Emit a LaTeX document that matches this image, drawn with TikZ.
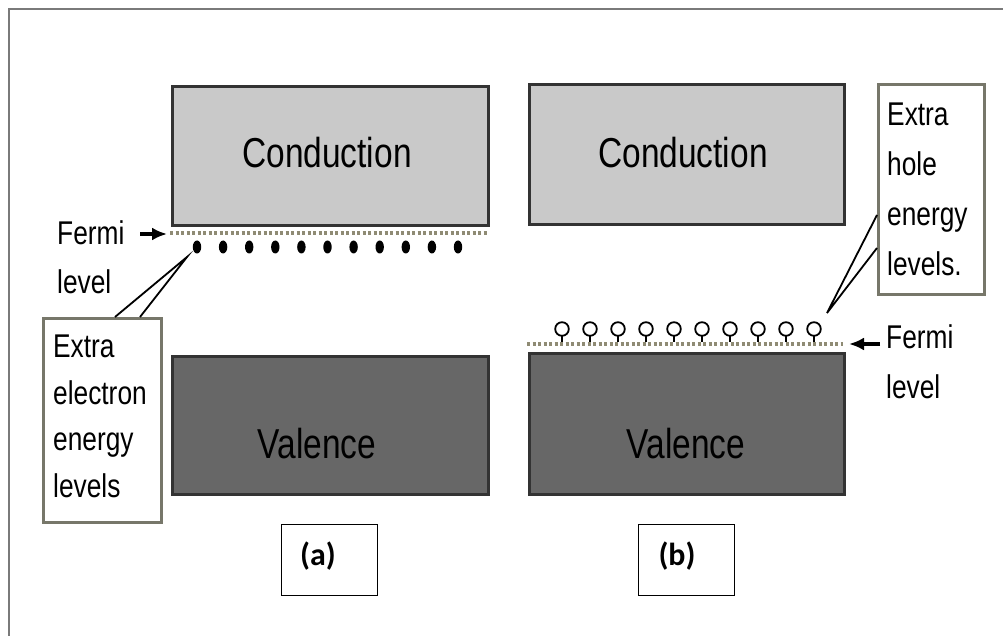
\documentclass[tikz,border=0pt]{standalone}
\usepackage{fontspec}
\setmainfont{Liberation Sans}
\newfontfamily\narrowfont[FakeStretch=0.8]{Liberation Sans}
\newfontfamily\labelfont{Carlito}
\usetikzlibrary{arrows.meta}
\definecolor{condfill}{HTML}{C9C9C9}
\definecolor{valfill}{HTML}{676767}
\definecolor{bandedge}{HTML}{333333}
\definecolor{fermidot}{HTML}{8F8B74}
\definecolor{calloutedge}{HTML}{77776A}
\definecolor{framegray}{HTML}{7A7A7A}
\tikzset{
  band/.style={draw=bandedge, line width=3bp, inner sep=0pt, anchor=north west},
  bandtext/.style={font=\narrowfont\fontsize{42}{48}\selectfont, inner sep=0pt, anchor=base},
  smalltext/.style={font=\narrowfont\fontsize{33}{40}\selectfont, inner sep=0pt, anchor=base west},
  callbox/.style={draw=calloutedge, fill=white, line width=3bp, inner sep=0pt, anchor=north west},
  fermiline/.style={draw=fermidot, line width=4.5bp, dash pattern=on 3bp off 2.5bp},
  pointer/.style={draw=black, line width=1.8bp},
  fermiarrow/.style={draw=black, line width=3.5bp, -{Latex[length=15bp,width=13bp]}},
  tagbox/.style={draw=black, line width=1bp, inner sep=0pt, anchor=north west,
    minimum width=96bp, minimum height=71bp},
  tagtext/.style={font=\labelfont\bfseries\fontsize{32}{38}\selectfont, inner sep=0pt}
}
\begin{document}
\begin{tikzpicture}[x=1bp, y=-1bp]
  \useasboundingbox (0,0) rectangle (1003,636);
  % page frame (open at the right and bottom)
  \draw[framegray, line width=2bp] (9,636) -- (9,9) -- (1003,9);

  % ---------- (a) n-type ----------
  \node[band, fill=condfill, minimum width=316bp, minimum height=139bp] (condA) at (171,85) {};
  \node[band, fill=valfill, minimum width=316bp, minimum height=138bp] (valA) at (171,355) {};
  \node[bandtext] (condAtxt) at (327,168) {Conduction};
  \node[bandtext] (valAtxt) at (317,458) {Valence};

  \coordinate (fermiAl) at (170,233);
  \coordinate (fermiAr) at (487,233);
  \draw[fermiline] (fermiAl) -- (fermiAr);
  \foreach \i in {0,...,10} {
    \fill[black] (197+26.1*\i,247) ellipse [x radius=4.2bp, y radius=6.5bp];
  }

  \node[smalltext] (fermiA) at (57,245) {Fermi};
  \node[smalltext] (levelA) at (57,294) {level};
  \coordinate (fermiAtail) at (140,234);
  \coordinate (fermiAtip) at (167,234);
  \draw[fermiarrow] (fermiAtail) -- (fermiAtip);

  % callout for the donor levels
  \node[callbox, minimum width=118bp, minimum height=204bp] (callA) at (42,317) {};
  \node[font=\narrowfont\fontsize{33}{46.7}\selectfont, inner sep=0pt, anchor=north west, align=left]
    (callAtxt) at (53,335) {Extra\\electron\\energy\\levels};
  \coordinate (tipA) at (187,257);
  \draw[pointer] (115,317) coordinate (pA1) -- (tipA) -- (140,317) coordinate (pA2);

  % ---------- (b) p-type ----------
  \node[band, fill=condfill, minimum width=315bp, minimum height=140bp] (condB) at (528,83) {};
  \node[band, fill=valfill, minimum width=315bp, minimum height=141bp] (valB) at (528,352) {};
  \node[bandtext] (condBtxt) at (683,168) {Conduction};
  \node[bandtext] (valBtxt) at (686,458) {Valence};

  \coordinate (fermiBl) at (527,344);
  \coordinate (fermiBr) at (843,344);
  \draw[fermiline] (fermiBl) -- (fermiBr);
  \foreach \i in {0,...,9} {
    \draw[black, line width=1.8bp] (562+28*\i,329) circle [radius=6.8bp];
    \draw[black, line width=1.8bp] (562+28*\i,336) -- (562+28*\i,342);
  }

  \node[smalltext] (fermiB) at (886,348) {Fermi};
  \node[smalltext] (levelB) at (886,398) {level};
  \coordinate (fermiBtail) at (880,344);
  \coordinate (fermiBtip) at (849,344);
  \draw[fermiarrow] (fermiBtail) -- (fermiBtip);

  % callout for the acceptor levels
  \node[callbox, minimum width=106bp, minimum height=210bp] (callB) at (877,83) {};
  \node[font=\narrowfont\fontsize{33}{50}\selectfont, inner sep=0pt, anchor=north west, align=left]
    (callBtxt) at (887,103) {Extra\\hole\\energy\\levels.};
  \coordinate (tipB) at (827,313);
  \draw[pointer] (877,215) coordinate (pB1) -- (tipB) -- (877,248) coordinate (pB2);

  % ---------- panel tags ----------
  \node[tagbox] (tagA) at (281,524) {};
  \node[tagtext] (tagAtxt) at (318,556) {(a)};
  \node[tagbox] (tagB) at (638,524) {};
  \node[tagtext] (tagBtxt) at (677,556) {(b)};
\end{tikzpicture}
\end{document}
